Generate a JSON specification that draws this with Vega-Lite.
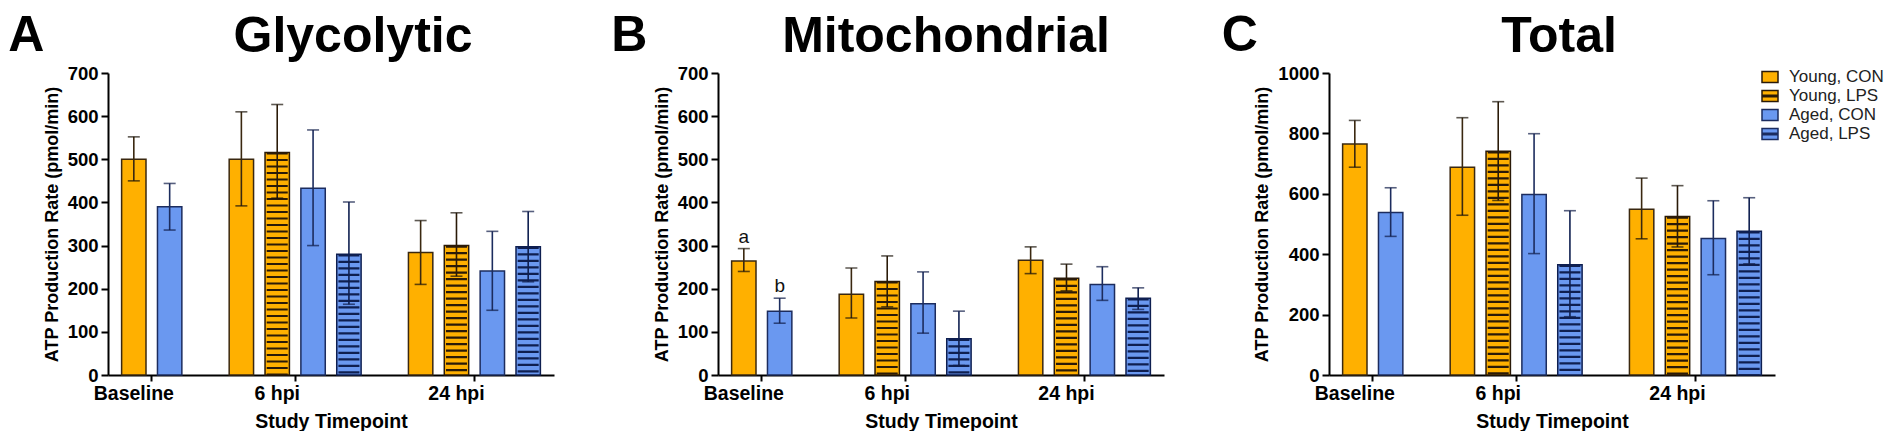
{
  "$schema": "https://vega.github.io/schema/vega-lite/v6.json",
  "padding": {"left": 8, "top": 11, "right": 0, "bottom": 0},
  "background": "white",
  "datasets": {
    "atp": [
      {"panel": "A", "time": "Baseline", "group": "Young, CON", "mean": 500, "lo": 450, "hi": 552},
      {"panel": "A", "time": "Baseline", "group": "Aged, CON", "mean": 390, "lo": 336, "hi": 444},
      {"panel": "A", "time": "6 hpi", "group": "Young, CON", "mean": 500, "lo": 392, "hi": 610},
      {"panel": "A", "time": "6 hpi", "group": "Young, LPS", "mean": 516, "lo": 410, "hi": 627},
      {"panel": "A", "time": "6 hpi", "group": "Aged, CON", "mean": 433, "lo": 300, "hi": 568},
      {"panel": "A", "time": "6 hpi", "group": "Aged, LPS", "mean": 280, "lo": 164, "hi": 401},
      {"panel": "A", "time": "24 hpi", "group": "Young, CON", "mean": 284, "lo": 210, "hi": 358},
      {"panel": "A", "time": "24 hpi", "group": "Young, LPS", "mean": 300, "lo": 229, "hi": 376},
      {"panel": "A", "time": "24 hpi", "group": "Aged, CON", "mean": 241, "lo": 150, "hi": 333},
      {"panel": "A", "time": "24 hpi", "group": "Aged, LPS", "mean": 297, "lo": 216, "hi": 379},
      {"panel": "B", "time": "Baseline", "group": "Young, CON", "mean": 264, "lo": 240, "hi": 293, "note": "a"},
      {"panel": "B", "time": "Baseline", "group": "Aged, CON", "mean": 148, "lo": 120, "hi": 178, "note": "b"},
      {"panel": "B", "time": "6 hpi", "group": "Young, CON", "mean": 187, "lo": 132, "hi": 248},
      {"panel": "B", "time": "6 hpi", "group": "Young, LPS", "mean": 217, "lo": 158, "hi": 276},
      {"panel": "B", "time": "6 hpi", "group": "Aged, CON", "mean": 165, "lo": 97, "hi": 239},
      {"panel": "B", "time": "6 hpi", "group": "Aged, LPS", "mean": 84, "lo": 22, "hi": 148},
      {"panel": "B", "time": "24 hpi", "group": "Young, CON", "mean": 266, "lo": 235, "hi": 297},
      {"panel": "B", "time": "24 hpi", "group": "Young, LPS", "mean": 224, "lo": 195, "hi": 257},
      {"panel": "B", "time": "24 hpi", "group": "Aged, CON", "mean": 210, "lo": 173, "hi": 251},
      {"panel": "B", "time": "24 hpi", "group": "Aged, LPS", "mean": 178, "lo": 152, "hi": 202},
      {"panel": "C", "time": "Baseline", "group": "Young, CON", "mean": 765, "lo": 688, "hi": 843},
      {"panel": "C", "time": "Baseline", "group": "Aged, CON", "mean": 538, "lo": 459, "hi": 620},
      {"panel": "C", "time": "6 hpi", "group": "Young, CON", "mean": 688, "lo": 529, "hi": 852},
      {"panel": "C", "time": "6 hpi", "group": "Young, LPS", "mean": 741, "lo": 578, "hi": 905},
      {"panel": "C", "time": "6 hpi", "group": "Aged, CON", "mean": 598, "lo": 402, "hi": 799},
      {"panel": "C", "time": "6 hpi", "group": "Aged, LPS", "mean": 365, "lo": 193, "hi": 544},
      {"panel": "C", "time": "24 hpi", "group": "Young, CON", "mean": 549, "lo": 451, "hi": 652},
      {"panel": "C", "time": "24 hpi", "group": "Young, LPS", "mean": 525, "lo": 424, "hi": 627},
      {"panel": "C", "time": "24 hpi", "group": "Aged, CON", "mean": 452, "lo": 332, "hi": 577},
      {"panel": "C", "time": "24 hpi", "group": "Aged, LPS", "mean": 476, "lo": 368, "hi": 587}
    ]
  },
  "data": {"name": "atp"},
  "spacing": 57,
  "resolve": {"scale": {"x": "independent", "y": "independent"}, "legend": {"fill": "independent"}},
  "hconcat": [
    {
      "title": {"text": "A", "anchor": "start", "frame": "bounds", "dx": -35, "dy": 53},
      "vconcat": [{
        "title": {"text": "Glycolytic", "anchor": "middle", "offset": 2, "dx": 22},
        "width": 446,
        "height": 302,
        "transform": [
          {"filter": "datum.panel == 'A'"},
          {"calculate": "datum.time + '|' + datum.group", "as": "bar"}
        ],
        "encoding": {
          "x": {
            "field": "bar", "type": "nominal",
            "scale": {"domain": ["Baseline|Young, CON", "Baseline|Aged, CON", "gap1", "6 hpi|Young, CON", "6 hpi|Young, LPS", "6 hpi|Aged, CON", "6 hpi|Aged, LPS", "gap2", "24 hpi|Young, CON", "24 hpi|Young, LPS", "24 hpi|Aged, CON", "24 hpi|Aged, LPS"], "paddingInner": 0, "paddingOuter": 0.22},
            "axis": {"values": ["Baseline|Young, CON", "6 hpi|Young, LPS", "24 hpi|Young, LPS"], "labelExpr": "split(datum.value, '|')[0]", "bandPosition": 1, "title": "Study Timepoint"}
          }
        },
        "layer": [
          {
            "mark": {"type": "bar", "width": {"band": 0.68}, "strokeWidth": 1.5},
            "encoding": {
              "y": {"field": "mean", "type": "quantitative", "scale": {"domain": [0, 700], "nice": false},
                "axis": {"title": "ATP Production Rate (pmol/min)", "values": [0, 50, 100, 150, 200, 250, 300, 350, 400, 450, 500, 550, 600, 650, 700], "labelExpr": "datum.value % 100 == 0 ? datum.label : ''", "tickSize": {"condition": {"test": "datum.value % 100 == 0", "value": 7}, "value": 4}}},
              "fill": {"field": "group", "type": "nominal", "scale": {"domain": ["Young, CON", "Young, LPS", "Aged, CON", "Aged, LPS"], "range": ["#FFB000", "#FFB000", "#6A98F0", "#6A98F0"]}, "legend": null},
              "stroke": {"field": "group", "type": "nominal", "scale": {"domain": ["Young, CON", "Young, LPS", "Aged, CON", "Aged, LPS"], "range": ["#3a2810", "#2a1a08", "#1c2c5e", "#0f1f50"]}, "legend": null}
            }
          },
          {
            "transform": [{"filter": "indexof(datum.group, 'LPS') >= 0"}],
            "mark": {"type": "rule", "strokeWidth": 21, "strokeDash": [2.2, 4.3]},
            "encoding": {
              "y": {"field": "mean", "type": "quantitative"},
              "y2": {"datum": 0},
              "stroke": {"field": "group", "type": "nominal", "legend": null}
            }
          },
          {
            "mark": {"type": "rule", "strokeWidth": 1.6},
            "encoding": {
              "y": {"field": "lo", "type": "quantitative"},
              "y2": {"field": "hi"},
              "stroke": {"field": "group", "type": "nominal", "legend": null}
            }
          },
          {
            "mark": {"type": "tick", "size": 12, "thickness": 1.6},
            "encoding": {
              "y": {"field": "hi", "type": "quantitative"},
              "color": {"field": "group", "type": "nominal", "scale": {"domain": ["Young, CON", "Young, LPS", "Aged, CON", "Aged, LPS"], "range": ["#1a1208", "#1a1208", "#101c48", "#101c48"]}, "legend": null}
            }
          },
          {
            "mark": {"type": "tick", "size": 12, "thickness": 1.6},
            "encoding": {
              "y": {"field": "lo", "type": "quantitative"},
              "color": {"field": "group", "type": "nominal", "legend": null}
            }
          }
        ]
      }]
    },
    {
      "title": {"text": "B", "anchor": "start", "frame": "bounds", "dx": -42, "dy": 53},
      "vconcat": [{
        "title": {"text": "Mitochondrial", "anchor": "middle", "offset": 2, "dx": 5},
        "width": 446,
        "height": 302,
        "transform": [
          {"filter": "datum.panel == 'B'"},
          {"calculate": "datum.time + '|' + datum.group", "as": "bar"}
        ],
        "encoding": {
          "x": {
            "field": "bar", "type": "nominal",
            "scale": {"domain": ["Baseline|Young, CON", "Baseline|Aged, CON", "gap1", "6 hpi|Young, CON", "6 hpi|Young, LPS", "6 hpi|Aged, CON", "6 hpi|Aged, LPS", "gap2", "24 hpi|Young, CON", "24 hpi|Young, LPS", "24 hpi|Aged, CON", "24 hpi|Aged, LPS"], "paddingInner": 0, "paddingOuter": 0.22},
            "axis": {"values": ["Baseline|Young, CON", "6 hpi|Young, LPS", "24 hpi|Young, LPS"], "labelExpr": "split(datum.value, '|')[0]", "bandPosition": 1, "title": "Study Timepoint"}
          }
        },
        "layer": [
          {
            "mark": {"type": "bar", "width": {"band": 0.68}, "strokeWidth": 1.5},
            "encoding": {
              "y": {"field": "mean", "type": "quantitative", "scale": {"domain": [0, 700], "nice": false},
                "axis": {"title": "ATP Production Rate (pmol/min)", "values": [0, 50, 100, 150, 200, 250, 300, 350, 400, 450, 500, 550, 600, 650, 700], "labelExpr": "datum.value % 100 == 0 ? datum.label : ''", "tickSize": {"condition": {"test": "datum.value % 100 == 0", "value": 7}, "value": 4}}},
              "fill": {"field": "group", "type": "nominal", "scale": {"domain": ["Young, CON", "Young, LPS", "Aged, CON", "Aged, LPS"], "range": ["#FFB000", "#FFB000", "#6A98F0", "#6A98F0"]}, "legend": null},
              "stroke": {"field": "group", "type": "nominal", "scale": {"domain": ["Young, CON", "Young, LPS", "Aged, CON", "Aged, LPS"], "range": ["#3a2810", "#2a1a08", "#1c2c5e", "#0f1f50"]}, "legend": null}
            }
          },
          {
            "transform": [{"filter": "indexof(datum.group, 'LPS') >= 0"}],
            "mark": {"type": "rule", "strokeWidth": 21, "strokeDash": [2.2, 4.3]},
            "encoding": {
              "y": {"field": "mean", "type": "quantitative"},
              "y2": {"datum": 0},
              "stroke": {"field": "group", "type": "nominal", "legend": null}
            }
          },
          {
            "mark": {"type": "rule", "strokeWidth": 1.6},
            "encoding": {
              "y": {"field": "lo", "type": "quantitative"},
              "y2": {"field": "hi"},
              "stroke": {"field": "group", "type": "nominal", "legend": null}
            }
          },
          {
            "mark": {"type": "tick", "size": 12, "thickness": 1.6},
            "encoding": {
              "y": {"field": "hi", "type": "quantitative"},
              "color": {"field": "group", "type": "nominal", "scale": {"domain": ["Young, CON", "Young, LPS", "Aged, CON", "Aged, LPS"], "range": ["#1a1208", "#1a1208", "#101c48", "#101c48"]}, "legend": null}
            }
          },
          {
            "mark": {"type": "tick", "size": 12, "thickness": 1.6},
            "encoding": {
              "y": {"field": "lo", "type": "quantitative"},
              "color": {"field": "group", "type": "nominal", "legend": null}
            }
          },
          {
            "transform": [{"filter": "isValid(datum.note)"}],
            "mark": {"type": "text", "dy": -6, "baseline": "alphabetic", "fontSize": 19, "font": "Liberation Sans", "color": "#111"},
            "encoding": {
              "y": {"field": "hi", "type": "quantitative"},
              "text": {"field": "note"}
            }
          }
        ]
      }]
    },
    {
      "title": {"text": "C", "anchor": "start", "frame": "bounds", "dx": -32, "dy": 53},
      "vconcat": [{
        "title": {"text": "Total", "anchor": "middle", "offset": 2, "dx": 7},
        "width": 446,
        "height": 302,
        "transform": [
          {"filter": "datum.panel == 'C'"},
          {"calculate": "datum.time + '|' + datum.group", "as": "bar"}
        ],
        "encoding": {
          "x": {
            "field": "bar", "type": "nominal",
            "scale": {"domain": ["Baseline|Young, CON", "Baseline|Aged, CON", "gap1", "6 hpi|Young, CON", "6 hpi|Young, LPS", "6 hpi|Aged, CON", "6 hpi|Aged, LPS", "gap2", "24 hpi|Young, CON", "24 hpi|Young, LPS", "24 hpi|Aged, CON", "24 hpi|Aged, LPS"], "paddingInner": 0, "paddingOuter": 0.22},
            "axis": {"values": ["Baseline|Young, CON", "6 hpi|Young, LPS", "24 hpi|Young, LPS"], "labelExpr": "split(datum.value, '|')[0]", "bandPosition": 1, "title": "Study Timepoint"}
          }
        },
        "layer": [
          {
            "mark": {"type": "bar", "width": {"band": 0.68}, "strokeWidth": 1.5},
            "encoding": {
              "y": {"field": "mean", "type": "quantitative", "scale": {"domain": [0, 1000], "nice": false},
                "axis": {"title": "ATP Production Rate (pmol/min)", "values": [0, 100, 200, 300, 400, 500, 600, 700, 800, 900, 1000], "labelExpr": "datum.value % 200 == 0 ? datum.label : ''", "format": "d", "tickSize": {"condition": {"test": "datum.value % 200 == 0", "value": 7}, "value": 4}}},
              "fill": {"field": "group", "type": "nominal", "scale": {"domain": ["Young, CON", "Young, LPS", "Aged, CON", "Aged, LPS"], "range": ["#FFB000", "#FFB000", "#6A98F0", "#6A98F0"]},
                "legend": {"orient": "none", "legendX": 432, "legendY": -5, "title": null, "symbolSize": 256, "symbolStrokeWidth": 1.5, "labelFont": "Liberation Sans", "labelFontSize": 17, "labelFontWeight": "normal", "labelColor": "#222", "labelOffset": 10, "rowPadding": 1,
                  "encode": {"symbols": {"update": {
                    "shape": {"signal": "indexof(datum.value, 'LPS') >= 0 ? 'M-1,-0.7H1V0.7H-1Z M-1,-0.1H1V0.1H-1Z' : 'M-1,-0.7H1V0.7H-1Z'"},
                    "stroke": {"signal": "indexof(datum.value, 'Aged') >= 0 ? '#1c2c5e' : '#2a1a08'"}
                  }}}}},
              "stroke": {"field": "group", "type": "nominal", "scale": {"domain": ["Young, CON", "Young, LPS", "Aged, CON", "Aged, LPS"], "range": ["#3a2810", "#2a1a08", "#1c2c5e", "#0f1f50"]}, "legend": null}
            }
          },
          {
            "transform": [{"filter": "indexof(datum.group, 'LPS') >= 0"}],
            "mark": {"type": "rule", "strokeWidth": 21, "strokeDash": [2.2, 4.3]},
            "encoding": {
              "y": {"field": "mean", "type": "quantitative"},
              "y2": {"datum": 0},
              "stroke": {"field": "group", "type": "nominal", "legend": null}
            }
          },
          {
            "mark": {"type": "rule", "strokeWidth": 1.6},
            "encoding": {
              "y": {"field": "lo", "type": "quantitative"},
              "y2": {"field": "hi"},
              "stroke": {"field": "group", "type": "nominal", "legend": null}
            }
          },
          {
            "mark": {"type": "tick", "size": 12, "thickness": 1.6},
            "encoding": {
              "y": {"field": "hi", "type": "quantitative"},
              "color": {"field": "group", "type": "nominal", "scale": {"domain": ["Young, CON", "Young, LPS", "Aged, CON", "Aged, LPS"], "range": ["#1a1208", "#1a1208", "#101c48", "#101c48"]}, "legend": null}
            }
          },
          {
            "mark": {"type": "tick", "size": 12, "thickness": 1.6},
            "encoding": {
              "y": {"field": "lo", "type": "quantitative"},
              "color": {"field": "group", "type": "nominal", "legend": null}
            }
          }
        ]
      }]
    }
  ],
  "config": {
    "view": {"stroke": null},
    "axis": {"grid": false, "domainColor": "black", "domainWidth": 2, "tickColor": "black", "tickWidth": 2, "labelColor": "black", "labelFont": "Liberation Sans", "labelFontWeight": "bold", "titleFont": "Liberation Sans", "titleFontWeight": "bold", "titleColor": "black"},
    "axisX": {"labelAngle": 0, "labelFontSize": 19.5, "titleFontSize": 19.5, "tickSize": 6, "labelPadding": 3, "titlePadding": 10},
    "axisY": {"labelFontSize": 18.5, "titleFontSize": 18, "labelPadding": 3, "titlePadding": 6},
    "title": {"font": "Liberation Sans", "fontWeight": "bold", "fontSize": 50, "color": "black"}
  }
}
